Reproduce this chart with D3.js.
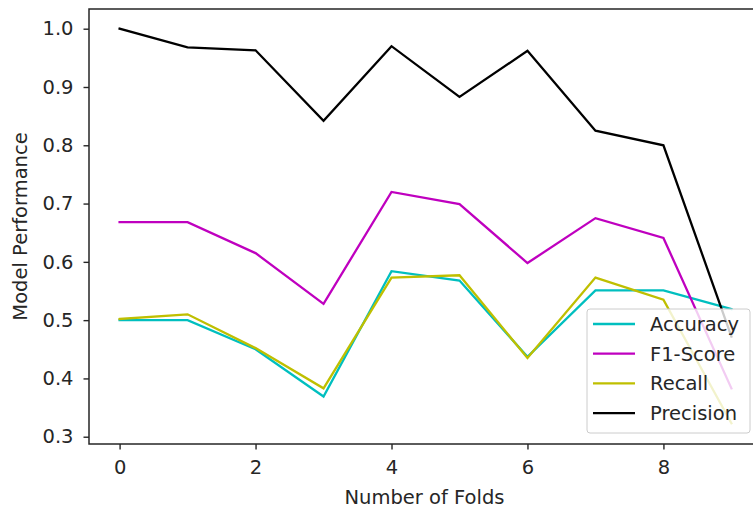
<!DOCTYPE html>
<html>
<head>
<meta charset="utf-8">
<script src="https://cdn.jsdelivr.net/npm/d3@7"></script>
<style>
  html, body { margin: 0; padding: 0; background: #fff; }
  svg { display: block; }
  text { font-family: "DejaVu Sans", sans-serif; fill: #262626; }
</style>
</head>
<body>
<svg id="chart" width="753" height="512"></svg>
<script>
const folds = [0, 1, 2, 3, 4, 5, 6, 7, 8, 9];
const accuracy  = [0.500, 0.500, 0.450, 0.369, 0.584, 0.568, 0.437, 0.551, 0.551, 0.519];
const f1Score   = [0.668, 0.668, 0.615, 0.528, 0.720, 0.699, 0.598, 0.675, 0.641, 0.383];
const recall    = [0.502, 0.510, 0.452, 0.383, 0.573, 0.577, 0.435, 0.573, 0.535, 0.323];
const precision = [1.000, 0.968, 0.963, 0.842, 0.970, 0.883, 0.962, 0.825, 0.800, 0.472];
const xTicks = [0, 2, 4, 6, 8];
const yTicks = [0.3, 0.4, 0.5, 0.6, 0.7, 0.8, 0.9, 1.0];

const seriesNames = ["Accuracy", "F1-Score", "Recall", "Precision"];
const seriesValues = [accuracy, f1Score, recall, precision];
const seriesColors = ["#00bfbf", "#bf00bf", "#bfbf00", "#000000"];

(function () {
const svg = d3.select("#chart");
const pL = 89, pR = 762, pT = 9, pB = 444;
const x = d3.scaleLinear().domain([-0.45, 9.45]).range([pL, pR]);
const y = d3.scaleLinear().domain([0.2875, 1.0338]).range([pB, pT]);

// lines
const line = d3.line().x((d, i) => x(folds[i])).y(d => y(d));
seriesValues.forEach((vals, k) => {
  svg.append("path")
    .datum(vals)
    .attr("d", line)
    .attr("fill", "none")
    .attr("stroke", seriesColors[k])
    .attr("stroke-width", 2.3)
    .attr("stroke-linejoin", "miter")
    .attr("stroke-linecap", "square");
});

// axes
const fs = 19.5;
const xAxis = d3.axisBottom(x).tickValues(xTicks).tickFormat(d3.format("d")).tickSize(5.5).tickPadding(11);
const gx = svg.append("g").attr("transform", `translate(0,${pB})`).call(xAxis);
const yAxis = d3.axisLeft(y).tickValues(yTicks).tickFormat(d3.format(".1f")).tickSize(5.5).tickPadding(10);
const gy = svg.append("g").attr("transform", `translate(${pL},0)`).call(yAxis);
[gx, gy].forEach(g => {
  g.select(".domain").remove();
  g.selectAll(".tick line").attr("stroke", "#262626").attr("stroke-width", 1.4);
  g.selectAll(".tick text").attr("font-size", fs).attr("font-family", "DejaVu Sans").attr("fill", "#262626");
});

// frame
svg.append("rect")
  .attr("x", pL).attr("y", pT)
  .attr("width", pR - pL).attr("height", pB - pT)
  .attr("fill", "none").attr("stroke", "#262626").attr("stroke-width", 1.5);

// labels
svg.append("text")
  .attr("x", (pL + pR) / 2 - 1).attr("y", 504)
  .attr("text-anchor", "middle").attr("font-size", fs)
  .text("Number of Folds");
svg.append("text")
  .attr("transform", `translate(27,${(pT + pB) / 2}) rotate(-90)`)
  .attr("text-anchor", "middle").attr("font-size", fs)
  .text("Model Performance");

// legend
const lg = svg.append("g");
lg.append("rect")
  .attr("x", 587).attr("y", 309).attr("width", 163).attr("height", 124)
  .attr("rx", 3).attr("fill", "#ffffff").attr("fill-opacity", 0.8)
  .attr("stroke", "#cccccc").attr("stroke-width", 1);
seriesNames.forEach((name, k) => {
  const cy = 324 + k * 29.7;
  lg.append("line")
    .attr("x1", 593).attr("x2", 635).attr("y1", cy).attr("y2", cy)
    .attr("stroke", seriesColors[k]).attr("stroke-width", 2.3);
  lg.append("text")
    .attr("x", 650).attr("y", cy + 7)
    .attr("font-size", fs)
    .text(name);
});
})();
</script>
</body>
</html>
